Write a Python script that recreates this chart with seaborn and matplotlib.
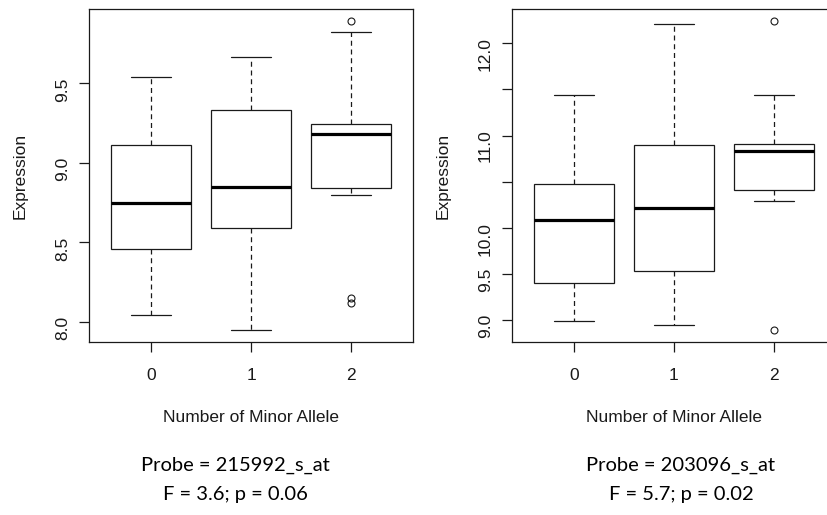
import numpy as np
import pandas as pd
import matplotlib
matplotlib.use("Agg")
import matplotlib.pyplot as plt
import seaborn as sns

# Genotype groups (number of minor alleles)
groups = ["0", "1", "2"]

probe1_g0 = [8.04, 8.46, 8.75, 9.11, 9.54]
probe1_g1 = [7.95, 8.59, 8.85, 9.33, 9.665]
probe1_g2 = [8.12, 8.15, 8.80, 8.84, 8.90, 9.05, 9.18, 9.20, 9.22, 9.245, 9.30, 9.825, 9.89]

probe2_g0 = [8.99, 9.395, 10.085, 10.47, 11.44]
probe2_g1 = [8.946, 9.526, 10.211, 10.90, 12.21]
probe2_g2 = [8.894, 10.295, 10.411, 10.60, 10.828, 10.87, 10.912, 11.437, 12.239]

probe_names = ["215992_s_at", "203096_s_at"]
f_stats = ["3.6", "5.7"]
p_vals = ["0.06", "0.02"]

yticks1 = [8.0, 8.5, 9.0, 9.5]
yticklabels1 = ["8.0", "8.5", "9.0", "9.5"]
yticks2 = [9.0, 9.5, 10.0, 10.5, 11.0, 11.5, 12.0]
yticklabels2 = ["9.0", "9.5", "10.0", "", "11.0", "", "12.0"]


def long_df(g0, g1, g2):
    rows = []
    for g, vals in zip(groups, [g0, g1, g2]):
        rows += [(g, v) for v in vals]
    return pd.DataFrame(rows, columns=["allele", "expr"])


df1 = long_df(probe1_g0, probe1_g1, probe1_g2)
df2 = long_df(probe2_g0, probe2_g1, probe2_g2)

sns.set_style("ticks")
plt.rcParams["font.family"] = ["Liberation Sans", "DejaVu Sans"]
ink = "#1a1a1a"

fig = plt.figure(figsize=(8.27, 5.15), dpi=100)
ax1 = fig.add_axes([89 / 827, 1 - 342 / 515, 324 / 827, 333 / 515])
ax2 = fig.add_axes([511.7 / 827, 1 - 342 / 515, 324 / 827, 333 / 515])

panels = [
    (ax1, df1, yticks1, yticklabels1),
    (ax2, df2, yticks2, yticklabels2),
]

for ax, df, yt, ytl in panels:
    sns.boxplot(
        data=df, x="allele", y="expr", order=groups, ax=ax,
        color="white", saturation=1, linecolor=ink, linewidth=0.9,
        width=0.8, whis=1.5, fliersize=5,
        medianprops=dict(color="black", linewidth=2.3),
        whiskerprops=dict(linestyle=(0, (4, 3))),
        flierprops=dict(marker="o", markerfacecolor="none",
                        markeredgecolor=ink, markeredgewidth=0.8),
    )
    # R-style axis ranges: 4% padding around the data
    lo, hi = df["expr"].min(), df["expr"].max()
    pad = 0.04 * (hi - lo)
    ax.set_ylim(lo - pad, hi + pad)
    ax.set_xlim(-0.5 - 0.04 * 3, 2.5 + 0.04 * 3)

    ax.set_yticks(yt)
    ax.set_yticklabels(ytl)
    ax.tick_params(axis="y", labelrotation=90, length=7, width=0.9,
                   pad=6.5, labelsize=12.5, colors=ink)
    ax.tick_params(axis="x", length=7, width=0.9, pad=11.5,
                   labelsize=12.5, colors=ink)
    for s in ax.spines.values():
        s.set_visible(True)
        s.set_color(ink)
        s.set_linewidth(0.9)

    ax.set_ylabel("Expression", fontsize=12.5, color=ink, va="center")
    ax.yaxis.set_label_coords(-0.212, 0.5)
    ax.set_xlabel("Number of Minor Allele", fontsize=12.5, color=ink, va="baseline")
    ax.xaxis.set_label_coords(0.5, -0.241)

for cx, name, f, p in zip([235 / 827, 681 / 827], probe_names, f_stats, p_vals):
    fig.text(cx, 1 - 470.7 / 515, f"Probe = {name}", ha="center", va="baseline",
             fontsize=14.5, family=["Lato", "DejaVu Sans"], color="black")
    fig.text(cx, 1 - 500 / 515, f"F = {f}; p = {p}", ha="center", va="baseline",
             fontsize=14.5, family=["Lato", "DejaVu Sans"], color="black")

fig.savefig("out.png", dpi=100)
